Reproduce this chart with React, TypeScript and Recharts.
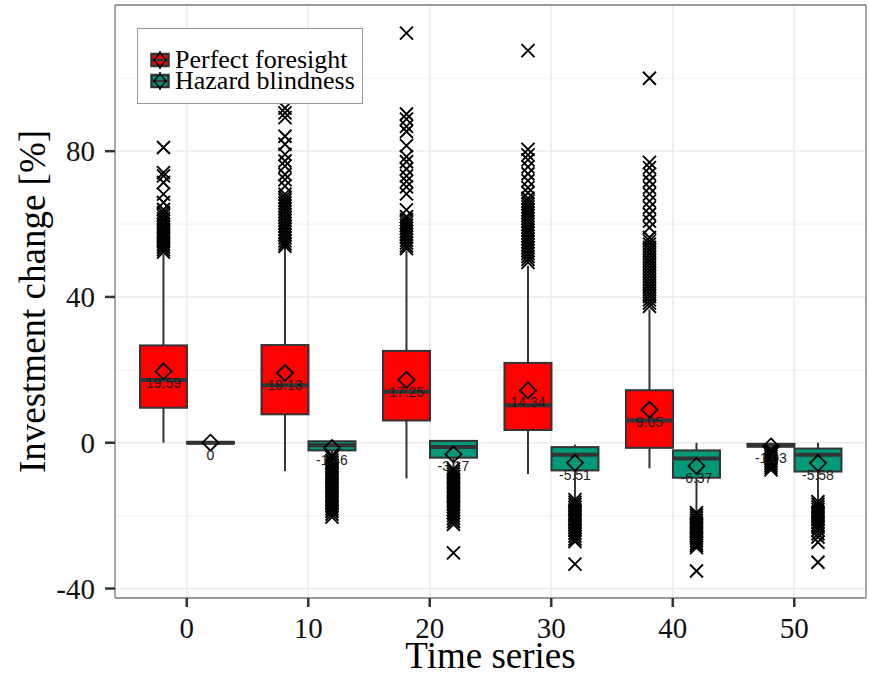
import React from 'react';
import { ComposedChart, Bar, XAxis, YAxis, CartesianGrid, Legend } from 'recharts';

const timeSeries = ['0', '10', '20', '30', '40', '50'];

// Perfect foresight: whisker ends, quartiles, median, mean
const pfLow = [0, -7.8, -9.8, -8.6, -7.0, -1.6];
const pfQ1 = [9.6, 7.8, 6.1, 3.5, -1.4, -1.1];
const pfMedian = [17.2, 15.8, 14.0, 10.3, 6.1, -0.7];
const pfQ3 = [26.7, 26.8, 25.2, 21.9, 14.4, -0.3];
const pfHigh = [51.7, 53.5, 52.7, 48.6, 36.6, 0];
const pfMean = [19.59, 19.13, 17.25, 14.34, 9.05, -1.03];
const pfOutliers = [
  [81, 74.1, 73.2, 71.4, 68.2, 65.9, 64, 63.1, 62.3, 61.5, 60.8, 60, 59.3, 58.6, 57.9, 57.2, 56.5, 55.8, 55.1, 54.4, 53.7, 53, 52.3],
  [91.8, 90.5, 89.2, 84.1, 81.9, 79.1, 77.3, 75.9, 73.6, 72.2, 70.4, 68.2, 67.4, 66.6, 65.8, 65, 64.2, 63.4, 62.6, 61.8, 61, 60.2, 59.4, 58.6, 57.8, 57, 56.2, 55.4, 54.6, 53.9],
  [112.4, 90.2, 88.8, 86.8, 85.4, 81.5, 78.5, 77.1, 75.1, 73.2, 71.7, 70.2, 68.3, 63.9, 62, 61.2, 60.4, 59.6, 58.8, 58, 57.2, 56.4, 55.6, 54.8, 54, 53.3],
  [107.6, 80.5, 79, 77.6, 75.7, 73.8, 71.9, 70, 68.6, 67.1, 66.3, 65.5, 64.7, 63.9, 63.1, 62.3, 61.5, 60.7, 59.9, 59.1, 58.3, 57.5, 56.7, 55.9, 55.1, 54.3, 53.5, 52.7, 51.9, 51.1, 50.3, 49.5],
  [100, 76.9, 75.5, 73.7, 71.8, 70, 68.2, 66.3, 64.5, 62.7, 60.8, 59, 56.3, 55.4, 54.5, 53.6, 52.7, 51.8, 50.9, 50, 49.1, 48.2, 47.3, 46.4, 45.5, 44.6, 43.7, 42.8, 41.9, 41, 40.1, 39.2, 38.3, 37.4],
  [-2, -2.6, -3.2, -3.8, -4.4, -5, -5.6, -6.2, -6.8, -7.4],
];

// Hazard blindness
const hbLow = [-0.4, -3, -6.8, -15.2, -18.8, -15.8];
const hbQ1 = [-0.2, -2.1, -4.1, -7.6, -9.6, -7.9];
const hbMedian = [0, -0.7, -1.2, -3.3, -4.3, -3.3];
const hbQ3 = [0.2, 0.4, 0.5, -1.2, -2.1, -1.6];
const hbHigh = [0.4, 0.4, 0.5, -0.5, 0, 0];
const hbMean = [0, -1.46, -3.17, -5.51, -6.37, -5.58];
const hbOutliers = [
  [],
  [-3.4, -4.1, -4.8, -5.5, -6.2, -6.9, -7.6, -8.3, -9, -9.7, -10.4, -11.1, -11.8, -12.5, -13.2, -13.9, -14.6, -15.3, -16, -16.7, -17.4, -18.1, -18.8, -19.6, -20.4],
  [-7.2, -7.9, -8.6, -9.3, -10, -10.7, -11.4, -12.1, -12.8, -13.5, -14.2, -14.9, -15.6, -16.3, -17, -17.7, -18.4, -19.2, -20, -20.8, -21.6, -22.4, -30.2],
  [-15.6, -16.3, -17, -17.7, -18.4, -19.1, -19.8, -20.5, -21.2, -21.9, -22.6, -23.3, -24, -24.8, -25.6, -26.4, -27.1, -33.3],
  [-19.2, -19.9, -20.6, -21.3, -22, -22.7, -23.4, -24.1, -24.8, -25.5, -26.2, -26.9, -27.6, -28.2, -28.8, -35.2],
  [-16.2, -16.9, -17.6, -18.3, -19, -19.7, -20.4, -21.1, -21.8, -22.5, -23.2, -24, -25, -25.9, -27.3, -32.8],
];

const yTicks = [-40, 0, 40, 80];
const yMinor = [-20, 20, 60, 100];
const yDomain = [-42.6, 120.1];

const PF_COLOR = '#ff0000';
const HB_COLOR = '#00997a';
const LINE = '#333333';
const BORDER = '#7f7f7f';
const SERIF = '"Liberation Serif", "Times New Roman", serif';
const SANS = '"Liberation Sans", Arial, sans-serif';

const stats = (low, q1, med, q3, high, mean, out, i) => {
  const all = [low[i], high[i], ...out[i]];
  return {
    low: low[i], q1: q1[i], median: med[i], q3: q3[i], high: high[i], mean: mean[i], outliers: out[i],
    range: [Math.min(...all), Math.max(...all)],
  };
};

const data = timeSeries.map((t, i) => {
  const pf = stats(pfLow, pfQ1, pfMedian, pfQ3, pfHigh, pfMean, pfOutliers, i);
  const hb = stats(hbLow, hbQ1, hbMedian, hbQ3, hbHigh, hbMean, hbOutliers, i);
  return { t, pf, hb, pfRange: pf.range, hbRange: hb.range };
});

// the bar spans the full range of a group; inner values are placed on the same scale
const makeBoxShape = (key, color) => (props) => {
  const { x, y, width, height, payload } = props;
  const s = payload[key];
  const top = Math.min(y, y + height);
  const bottom = Math.max(y, y + height);
  const [lo, hi] = s.range;
  const pix = (v) => (hi === lo ? top : top + ((hi - v) / (hi - lo)) * (bottom - top));
  const cx = x + width / 2;
  const boxTop = pix(s.q3);
  const boxBottom = pix(s.q1);
  const my = pix(s.mean);
  const d = 8;
  const o = 6.5;
  return (
    <g>
      <line x1={cx} x2={cx} y1={pix(s.high)} y2={pix(s.low)} stroke={LINE} strokeWidth={2} />
      <rect x={x} y={boxTop} width={width} height={Math.max(boxBottom - boxTop, 0.5)} fill={color} stroke={LINE} strokeWidth={2} />
      <line x1={x} x2={x + width} y1={pix(s.median)} y2={pix(s.median)} stroke={LINE} strokeWidth={4} />
      {s.outliers.map((v, j) => {
        const py = pix(v);
        return (
          <path key={j} d={`M${cx - o},${py - o}L${cx + o},${py + o}M${cx - o},${py + o}L${cx + o},${py - o}`} stroke="#000" strokeWidth={1.9} fill="none" />
        );
      })}
      <path d={`M${cx},${my - d}L${cx + d},${my}L${cx},${my + d}L${cx - d},${my}Z`} fill="none" stroke="#000" strokeWidth={1.8} />
      <text x={cx} y={my + 12} textAnchor="middle" dominantBaseline="central" fontSize={14} fontFamily={SANS} fill="#1a1a1a">
        {s.mean === 0 ? '0' : s.mean.toFixed(2)}
      </text>
    </g>
  );
};

const LegendKey = ({ color }) => (
  <svg width={20} height={18} style={{ display: 'block' }}>
    <line x1={10} x2={10} y1={0} y2={18} stroke={LINE} strokeWidth={2} />
    <rect x={1.5} y={3} width={17} height={12} fill={color} stroke={LINE} strokeWidth={2.5} />
    <line x1={1.5} x2={18.5} y1={9} y2={9} stroke={LINE} strokeWidth={2.5} />
    <path d="M10,2L16,9L10,16L4,9Z" fill="none" stroke="#000" strokeWidth={1.5} />
  </svg>
);

const legendItems = [
  { name: 'Perfect foresight', color: PF_COLOR },
  { name: 'Hazard blindness', color: HB_COLOR },
];

const renderLegend = () => (
  <div style={{ boxSizing: 'border-box', width: 226, height: 76, border: '1px solid #999', background: '#fff', paddingTop: 20, paddingLeft: 12 }}>
    {legendItems.map((it) => (
      <div key={it.name} style={{ display: 'flex', alignItems: 'center', height: 21, lineHeight: '21px' }}>
        <LegendKey color={it.color} />
        <span style={{ marginLeft: 5, fontFamily: SERIF, fontSize: 26, color: '#000', whiteSpace: 'nowrap' }}>{it.name}</span>
      </div>
    ))}
  </div>
);

export default function App() {
  return (
    <div style={{ position: 'absolute', left: 0, top: 0, width: 869, height: 676, background: '#fff' }}>
      <ComposedChart
        width={869}
        height={676}
        data={data}
        margin={{ top: 4, right: 2, bottom: 0, left: 0 }}
        barCategoryGap="11.5%"
        barGap={0}
      >
        <CartesianGrid horizontalValues={yMinor} vertical={false} stroke="#f4f4f4" strokeWidth={1.2} />
        <CartesianGrid stroke="#ebebeb" strokeWidth={1.4} />
        <XAxis
          dataKey="t"
          type="category"
          interval={0}
          height={78}
          padding={{ left: 11, right: 11 }}
          axisLine={{ stroke: BORDER, strokeWidth: 1.3 }}
          tickSize={9}
          tickMargin={10}
          tickLine={{ stroke: LINE, strokeWidth: 2.5 }}
          tick={{ fontSize: 29, fontFamily: SERIF, fill: '#111' }}
          label={{ value: 'Time series', position: 'insideBottom', offset: 8, fontSize: 37, fontFamily: SERIF, fill: '#000' }}
        />
        <XAxis xAxisId="top" dataKey="t" orientation="top" height={1} tick={false} tickLine={false} axisLine={{ stroke: BORDER, strokeWidth: 1.3 }} />
        <YAxis
          type="number"
          domain={yDomain}
          ticks={yTicks}
          allowDataOverflow
          width={115}
          axisLine={{ stroke: BORDER, strokeWidth: 1.3 }}
          tickSize={10}
          tickMargin={10}
          tickLine={{ stroke: LINE, strokeWidth: 2.5 }}
          tick={{ fontSize: 29, fontFamily: SERIF, fill: '#111' }}
          label={{ value: 'Investment change [%]', angle: -90, position: 'insideLeft', offset: 32, style: { textAnchor: 'middle' }, fontSize: 37, fontFamily: SERIF, fill: '#000' }}
        />
        <YAxis yAxisId="right" orientation="right" width={1} domain={yDomain} tick={false} tickLine={false} axisLine={{ stroke: BORDER, strokeWidth: 1.3 }} />
        <Bar dataKey="pfRange" name="Perfect foresight" shape={makeBoxShape('pf', PF_COLOR)} isAnimationActive={false} />
        <Bar dataKey="hbRange" name="Hazard blindness" shape={makeBoxShape('hb', HB_COLOR)} isAnimationActive={false} />
        <Legend
          layout="vertical"
          align="center"
          verticalAlign="middle"
          content={renderLegend}
          wrapperStyle={{ left: 137, top: 28, width: 226, height: 76 }}
        />
      </ComposedChart>
    </div>
  );
}
